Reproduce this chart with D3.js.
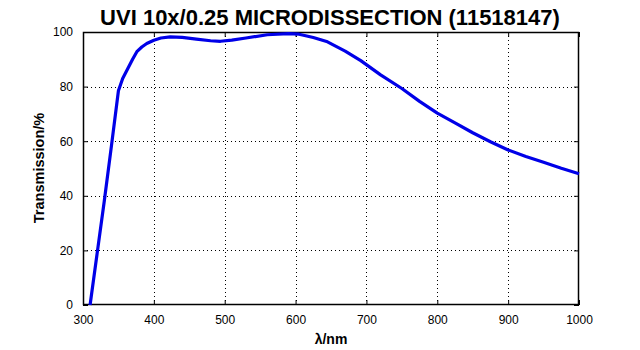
<!DOCTYPE html>
<html><head><meta charset="utf-8">
<script src="https://cdn.jsdelivr.net/npm/d3@7"></script>
<style>body{margin:0;background:#fff}svg{display:block}</style>
</head><body>
<script>
const wavelength = [310,320,330,340,350,356,362,370,376,383,390,400,410,423,440,460,480,494,510,530,560,590,605,625,645,670,692,720,750,775,800,825,850,875,900,925,950,975,1000];
const transmission = [0,19,38,58,78.5,83,86,90,92.8,94.5,95.8,97,97.8,98.2,98,97.4,96.8,96.6,97,97.8,99,99.4,99.2,98,96.4,93,89.5,84.3,79.3,74.6,70.3,66.7,63.1,59.8,56.8,54.4,52.3,50.1,48.1];
const xTicks = [300,400,500,600,700,800,900,1000];
const yTicks = [0,20,40,60,80,100];
const title = "UVI 10x/0.25 MICRODISSECTION (11518147)";
const xLabel = "λ/nm";
const yLabel = "Transmission/%";

const W=640,H=350, L=83,R=579,T=32,B=305;
const svg=d3.select("body").append("svg").attr("width",W).attr("height",H);
const x=d3.scaleLinear().domain([300,1000]).range([L,R]);
const y=d3.scaleLinear().domain([0,100]).range([B,T]);
const font="Arial, 'Liberation Sans', sans-serif";

// grid
const g=svg.append("g");
g.selectAll(".vg").data(xTicks.slice(1,-1)).enter().append("line")
 .attr("x1",d=>Math.round(x(d))+0.5).attr("x2",d=>Math.round(x(d))+0.5).attr("y1",T).attr("y2",B)
 .attr("stroke","#000").attr("stroke-width",1).attr("stroke-dasharray","1,3");
g.selectAll(".hg").data(yTicks.slice(1,-1)).enter().append("line")
 .attr("y1",d=>Math.round(y(d))+0.5).attr("y2",d=>Math.round(y(d))+0.5).attr("x1",L).attr("x2",R)
 .attr("stroke","#000").attr("stroke-width",1).attr("stroke-dasharray","1,3");

// axes (ticks inside)
const fmt=d3.format("d");
const ax=d3.axisBottom(x).tickValues(xTicks).tickSizeInner(-5).tickSizeOuter(0).tickPadding(10).tickFormat(fmt);
svg.append("g").attr("transform",`translate(0,${B})`).call(ax);
const ay=d3.axisLeft(y).tickValues(yTicks).tickSizeInner(-5).tickSizeOuter(0).tickPadding(10).tickFormat(fmt);
svg.append("g").attr("transform",`translate(${L},0)`).call(ay);
const axT=d3.axisTop(x).tickValues(xTicks).tickSizeInner(-5).tickSizeOuter(0).tickFormat("");
svg.append("g").attr("transform",`translate(0,${T})`).call(axT);
const ayR=d3.axisRight(y).tickValues(yTicks).tickSizeInner(-5).tickSizeOuter(0).tickFormat("");
svg.append("g").attr("transform",`translate(${R},0)`).call(ayR);
svg.selectAll(".domain").remove();
svg.selectAll(".tick text").attr("font-family",font).attr("font-size",12).attr("fill","#000");
svg.append("rect").attr("x",L+0.5).attr("y",T+0.5).attr("width",R-L-1).attr("height",B-T-1)
 .attr("fill","none").attr("stroke","#000").attr("stroke-width",1.5);

// line
const line=d3.line().x(d=>x(d[0])).y(d=>y(d[1])).curve(d3.curveLinear);
svg.append("path").datum(wavelength.map((w,i)=>[w,transmission[i]]))
 .attr("d",line).attr("fill","none").attr("stroke","#0000e8").attr("stroke-width",3.2).attr("stroke-linejoin","round");

// texts
svg.append("text").attr("x",330).attr("y",25).attr("text-anchor","middle")
 .attr("font-family",font).attr("font-weight","bold").attr("font-size",22).text(title);
svg.append("text").attr("x",331).attr("y",344).attr("text-anchor","middle")
 .attr("font-family",font).attr("font-weight","bold").attr("font-size",14).text(xLabel);
svg.append("text").attr("transform",`translate(44,168) rotate(-90)`).attr("text-anchor","middle")
 .attr("font-family",font).attr("font-weight","bold").attr("font-size",14.5).text(yLabel);
</script>
</body></html>
